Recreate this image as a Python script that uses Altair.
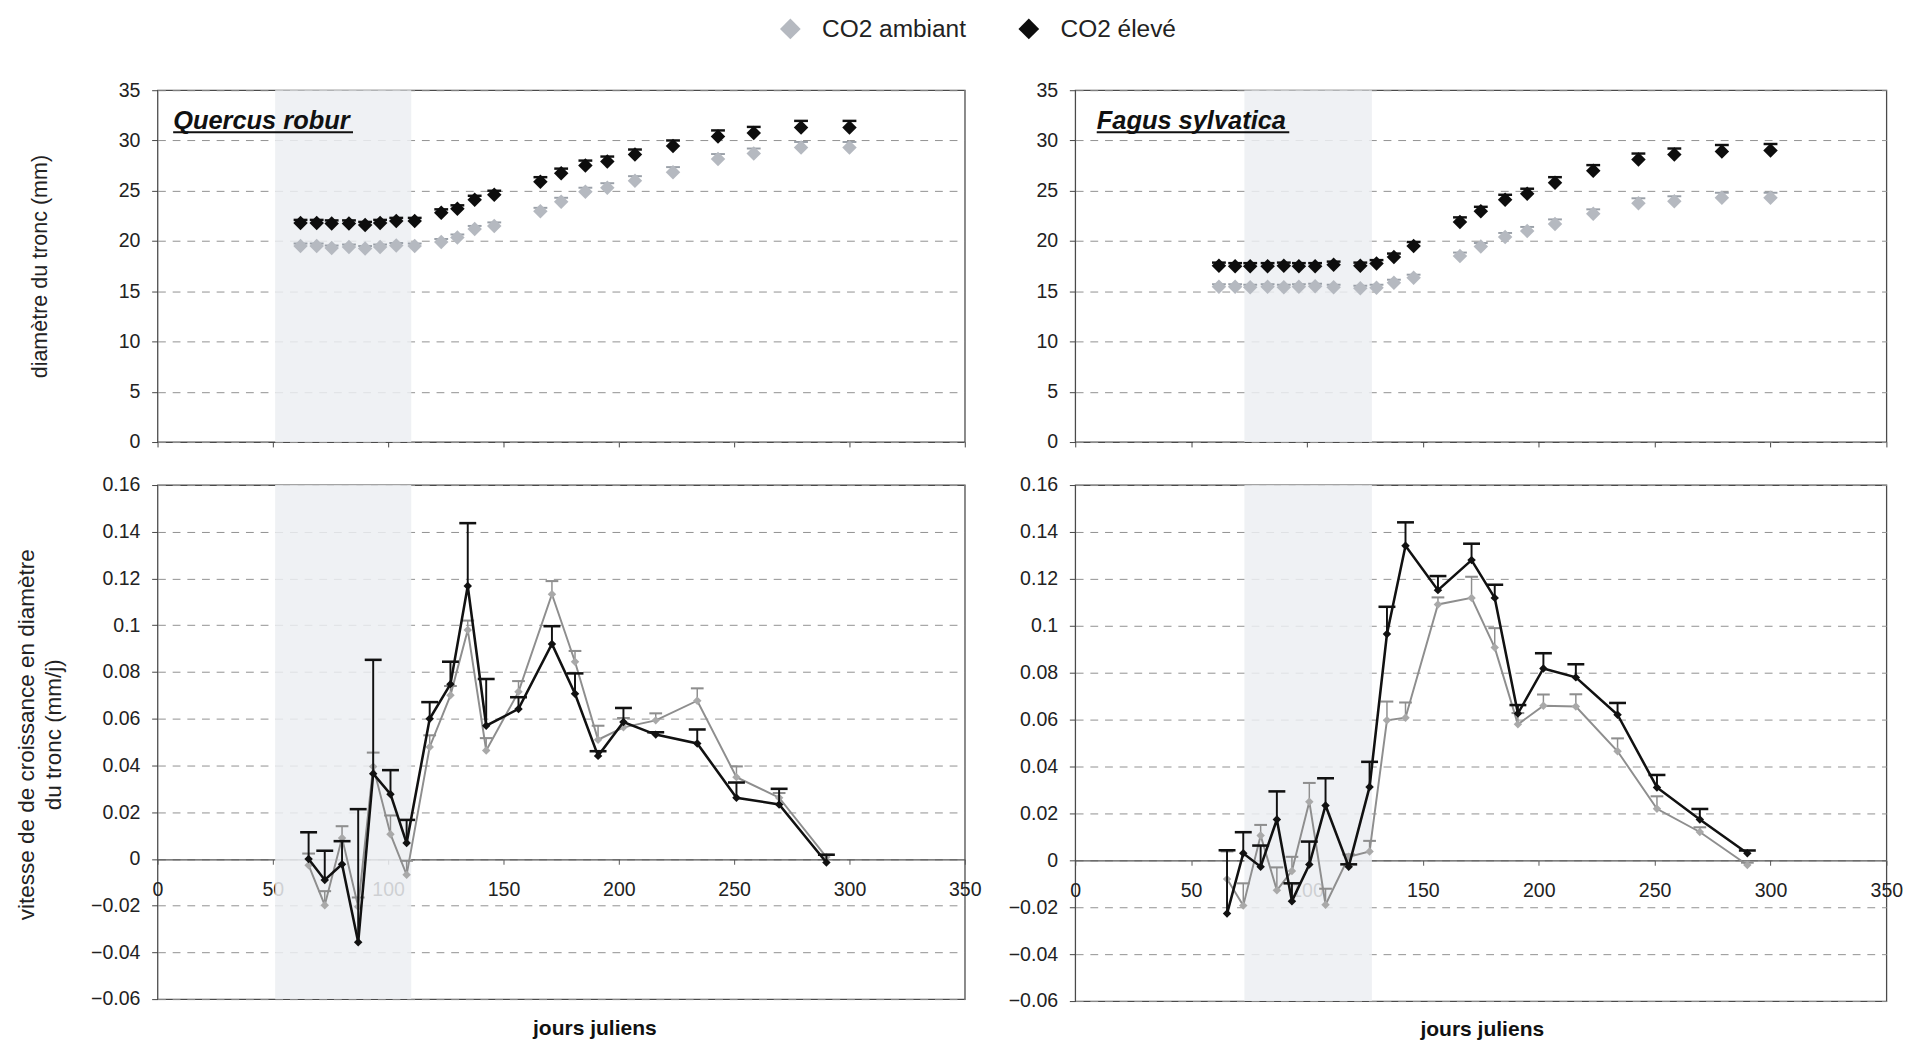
import altair as alt
import pandas as pd

FONT = "Liberation Sans"

series = ["CO2 ambiant", "CO2 élevé"]
x_ticks = [0, 50, 100, 150, 200, 250, 300, 350]
diam_ticks = [0, 5, 10, 15, 20, 25, 30, 35]
rate_ticks = [-0.06, -0.04, -0.02, 0, 0.02, 0.04, 0.06, 0.08, 0.1, 0.12, 0.14, 0.16]

# shaded periods (jours juliens)
q_shade = [51, 110]
f_shade = [73, 128]

# --- diameter (mm) ---
days_diam = [62, 69, 75.5, 83, 90, 96.5, 103.5, 111.5, 123, 130, 137.5, 146,
             166, 175, 185.5, 195, 207, 223.5, 243, 258.5, 279, 300]

q_diam_amb = [19.5, 19.5, 19.3, 19.4, 19.25, 19.4, 19.55, 19.5, 19.9, 20.35, 21.2, 21.5,
              22.95, 23.9, 24.9, 25.3, 26.0, 26.85, 28.15, 28.7, 29.3, 29.3]
q_diam_amb_err = [0.25, 0.25, 0.25, 0.25, 0.25, 0.25, 0.25, 0.25, 0.3, 0.3, 0.3, 0.35,
                  0.35, 0.4, 0.4, 0.45, 0.45, 0.5, 0.5, 0.5, 0.55, 0.55]
q_diam_elev = [21.8, 21.8, 21.75, 21.75, 21.6, 21.8, 22.0, 22.0, 22.8, 23.2, 24.1, 24.6,
               25.9, 26.75, 27.5, 27.9, 28.6, 29.45, 30.4, 30.75, 31.3, 31.3]
q_diam_elev_err = [0.3, 0.3, 0.3, 0.3, 0.3, 0.3, 0.3, 0.3, 0.35, 0.35, 0.4, 0.4,
                   0.45, 0.45, 0.5, 0.5, 0.5, 0.55, 0.6, 0.6, 0.65, 0.65]

f_diam_amb = [15.45, 15.45, 15.4, 15.45, 15.4, 15.45, 15.5, 15.4, 15.3, 15.35, 15.85, 16.35,
              18.5, 19.45, 20.4, 21.0, 21.7, 22.7, 23.75, 23.95, 24.3, 24.3]
f_diam_amb_err = [0.25, 0.25, 0.25, 0.25, 0.25, 0.25, 0.25, 0.25, 0.25, 0.3, 0.3, 0.3,
                  0.35, 0.35, 0.4, 0.4, 0.45, 0.45, 0.5, 0.5, 0.5, 0.5]
f_diam_elev = [17.55, 17.5, 17.5, 17.5, 17.55, 17.5, 17.5, 17.65, 17.55, 17.75, 18.4, 19.5,
               21.9, 22.95, 24.1, 24.7, 25.8, 27.0, 28.1, 28.6, 28.9, 29.0]
f_diam_elev_err = [0.3, 0.3, 0.3, 0.3, 0.3, 0.3, 0.3, 0.3, 0.3, 0.35, 0.35, 0.4,
                   0.45, 0.45, 0.5, 0.5, 0.55, 0.55, 0.6, 0.6, 0.65, 0.65]

# --- growth rate (mm/j) ---
days_rate = [65.5, 72.5, 80, 87, 93.5, 101, 108, 118, 127, 134.5, 142.5, 156.5,
             171, 181, 191, 202, 216, 234, 251, 269.5, 290]

q_rate_amb = [-0.0027, -0.0198, 0.009, -0.0205, 0.0395, 0.0106, -0.0068, 0.0479, 0.070, 0.098, 0.0464,
              0.0715, 0.1133, 0.0844, 0.051, 0.0563, 0.0593, 0.0677, 0.035, 0.0262, 0.0008]
q_rate_amb_err = [0.005, 0.006, 0.005, 0.004, 0.006, 0.008, 0.006, 0.005, 0.004, 0.004, 0.0053,
                  0.0046, 0.0056, 0.0046, 0.006, 0.004, 0.003, 0.0053, 0.0046, 0.002, 0.001]
q_rate_elev = [0.0, -0.009, -0.0023, -0.0357, 0.0365, 0.0277, 0.0068, 0.060, 0.0748, 0.1168, 0.057,
               0.0642, 0.092, 0.0707, 0.0441, 0.0586, 0.0532, 0.0494, 0.0262, 0.0233, -0.0015]
q_rate_elev_err = [0.0114, 0.0125, 0.0099, 0.057, 0.0487, 0.0103, 0.0099, 0.0071, 0.0096, 0.0269, 0.020,
                   0.005, 0.0076, 0.0087, 0.002, 0.006, 0.001, 0.006, 0.0065, 0.0067, 0.0033]

f_rate_amb = [-0.008, -0.0193, 0.0106, -0.0128, -0.0045, 0.025, -0.0189, 0.0015, 0.0038, 0.0597, 0.0608,
              0.1091, 0.1119, 0.0907, 0.058, 0.0659, 0.0656, 0.0465, 0.022, 0.0121, -0.002]
f_rate_amb_err = [0.0118, 0.0095, 0.0045, 0.0098, 0.006, 0.008, 0.0068, 0.001, 0.0045, 0.008, 0.0065,
                  0.003, 0.009, 0.0083, 0.0048, 0.0048, 0.0052, 0.0055, 0.0053, 0.002, 0.001]
f_rate_elev = [-0.0227, 0.003, -0.0027, 0.0174, -0.0174, -0.0018, 0.0234, -0.0027, 0.0313, 0.0965, 0.1341,
               0.1152, 0.128, 0.1119, 0.0626, 0.0818, 0.078, 0.0621, 0.0311, 0.0174, 0.003]
f_rate_elev_err = [0.027, 0.009, 0.009, 0.012, 0.0076, 0.0098, 0.0116, 0.001, 0.0107, 0.0116, 0.010,
                   0.006, 0.007, 0.0056, 0.0036, 0.0065, 0.0056, 0.005, 0.0053, 0.0045, 0.0012]


def frame(days, amb, amb_err, elev, elev_err):
    rows = []
    for s, vals, errs in ((series[0], amb, amb_err), (series[1], elev, elev_err)):
        for d, v, e in zip(days, vals, errs):
            rows.append({"serie": s, "day": d, "val": v, "top": v + e})
    return pd.DataFrame(rows)


q_diam = frame(days_diam, q_diam_amb, q_diam_amb_err, q_diam_elev, q_diam_elev_err)
f_diam = frame(days_diam, f_diam_amb, f_diam_amb_err, f_diam_elev, f_diam_elev_err)
q_rate = frame(days_rate, q_rate_amb, q_rate_amb_err, q_rate_elev, q_rate_elev_err)
f_rate = frame(days_rate, f_rate_amb, f_rate_amb_err, f_rate_elev, f_rate_elev_err)

SHADE = "#eceef2"
GRID = dict(grid=True, gridColor="#8f8f8f", gridDash=[8, 7], gridWidth=1)
LAB = dict(labelFont=FONT, labelFontSize=20, labelColor="#222")

W1, W2 = 826, 830
H1 = 360

color_scale = alt.Scale(domain=series, range=["#b5b9c0", "#0d0d0d"])
legend = alt.Legend(title=None, orient="none", legendX=635, legendY=-75.5, direction="horizontal",
                    symbolType="diamond", symbolSize=450, symbolStrokeWidth=0,
                    labelFont=FONT, labelFontSize=25, labelColor="#222", labelOffset=20,
                    columnPadding=51, padding=0)


def xq(field, axis):
    return alt.X(f"{field}:Q", scale=alt.Scale(domain=[0, 350], nice=False, zero=False), axis=axis, title=None)


def yq(field, dom, axis):
    return alt.Y(f"{field}:Q", scale=alt.Scale(domain=dom, nice=False, zero=False), axis=axis, title=None)


def top_panel(df, shade, title_text, ul, W, y_title):
    xa = alt.Axis(values=x_ticks, labels=False, ticks=True, tickSize=5, tickColor="#444", domain=False, grid=False, title=None)
    ya_kw = dict(values=diam_ticks, tickSize=6, tickColor="#444", domain=False, labelPadding=12, **GRID, **LAB)
    if y_title:
        ya = alt.Axis(title=y_title, titleFont=FONT, titleFontSize=22, titleFontWeight="normal", titleColor="#222",
                      titleX=-121, titleY=H1 / 2, titleAngle=-90, titleAlign="center", titleBaseline="middle", **ya_kw)
    else:
        ya = alt.Axis(title=None, **ya_kw)
    dom = [0, 35]
    sh = alt.Chart(pd.DataFrame({"start": [shade[0]], "end": [shade[1]]})).mark_rect(color=SHADE, opacity=0.85).encode(
        x=xq("start", xa), x2="end:Q", y=alt.value(0), y2=alt.value(H1))
    layers = [sh]
    for s, col, cw in ((series[0], "#9aa0a8", 1.5), (series[1], "#111111", 2)):
        b = alt.Chart(df).transform_filter(alt.datum.serie == s)
        layers.append(b.mark_rule(color=col, strokeWidth=cw).encode(x=xq("day", xa), y=yq("val", dom, ya), y2="top:Q"))
        layers.append(b.mark_point(shape="stroke", size=200, color=col, strokeWidth=cw + 0.5, opacity=1).encode(
            x=xq("day", xa), y=yq("top", dom, ya)))
    layers.append(alt.Chart(df).mark_point(shape="diamond", filled=True, size=220, opacity=1).encode(
        x=xq("day", xa), y=yq("val", dom, ya), color=alt.Color("serie:N", scale=color_scale, legend=legend)))
    layers.append(alt.Chart(pd.DataFrame({"t": [title_text]})).mark_text(
        font=FONT, fontSize=26, fontWeight="bold", fontStyle="italic", align="left", baseline="alphabetic",
        color="#111").encode(text="t:N", x=alt.value(ul[0]), y=alt.value(40)))
    layers.append(alt.Chart(pd.DataFrame({"t": [0]})).mark_rule(color="#111", strokeWidth=2).encode(
        x=alt.value(ul[0]), x2=alt.value(ul[1]), y=alt.value(43)))
    return alt.layer(*layers).properties(width=W, height=H1)


def bottom_panel(df, shade, W, H, y_title, title_x):
    zero_from_top = H * 0.16 / 0.22
    x_off = -round(H - zero_from_top)
    xa = alt.Axis(values=x_ticks, offset=x_off, domain=True, domainColor="#555", domainWidth=1.3,
                  ticks=True, tickSize=5, tickColor="#555", labelPadding=16, labelFlush=False, labelOverlap=False,
                  grid=False, format="d", title="jours juliens", titleFont=FONT, titleFontSize=21.5,
                  titleFontWeight="bold", titleColor="#111", titleX=title_x, titleY=173.5,
                  titleAlign="center", titleBaseline="middle", **LAB)
    ya_kw = dict(values=rate_ticks, tickSize=6, tickColor="#444", domain=False, labelPadding=12,
                 labelExpr="format(datum.value, '.2~f')", **GRID, **LAB)
    if y_title:
        ya = alt.Axis(title=y_title, titleFont=FONT, titleFontSize=23, titleFontWeight="normal", titleColor="#222",
                      titleX=-134, titleY=255, titleAngle=-90, titleAlign="center", titleBaseline="middle",
                      titleLineHeight=28, **ya_kw)
    else:
        ya = alt.Axis(title=None, **ya_kw)
    dom = [-0.06, 0.16]
    sh = alt.Chart(pd.DataFrame({"start": [shade[0]], "end": [shade[1]]})).mark_rect(color=SHADE, opacity=0.85).encode(
        x=xq("start", xa), x2="end:Q", y=alt.value(0), y2=alt.value(H))
    layers = [sh]
    styles = ((series[0], "#8e8e8e", "#a9a9a9", 2, 1.5, 170),
              (series[1], "#111111", "#111111", 2.6, 2, 300))
    for s, lc, pc, lw, ew, cap in styles:
        b = alt.Chart(df).transform_filter(alt.datum.serie == s)
        layers.append(b.mark_rule(color=lc, strokeWidth=ew).encode(x=xq("day", xa), y=yq("val", dom, ya), y2="top:Q"))
        layers.append(b.mark_point(shape="stroke", size=cap, color=lc, strokeWidth=ew + 0.6, opacity=1).encode(
            x=xq("day", xa), y=yq("top", dom, ya)))
        layers.append(b.mark_line(color=lc, strokeWidth=lw).encode(x=xq("day", xa), y=yq("val", dom, ya)))
        layers.append(b.mark_point(shape="diamond", filled=True, size=75, color=pc, opacity=1).encode(
            x=xq("day", xa), y=yq("val", dom, ya)))
    return alt.layer(*layers).properties(width=W, height=H)


TL = top_panel(q_diam, q_shade, "Quercus robur", (16, 200), W1, "diamètre du tronc (mm)")
TR = top_panel(f_diam, f_shade, "Fagus sylvatica", (22, 219), W2, None)
BL = bottom_panel(q_rate, q_shade, W1, 526, ["vitesse de de croissance en diamètre", "du tronc (mm/j)"], 447)
BR = bottom_panel(f_rate, f_shade, W2, 528, None, 416)

chart = alt.concat(TL, TR, BL, BR, columns=2, spacing={"row": 44, "column": 113}, bounds="flush").properties(
    padding={"left": 7, "top": -4, "right": 0, "bottom": 0}
).configure(font=FONT).configure_view(stroke="#4a4a4a", strokeWidth=1.3)

chart.save("out.html", embed_options={"renderer": "svg", "actions": False})
